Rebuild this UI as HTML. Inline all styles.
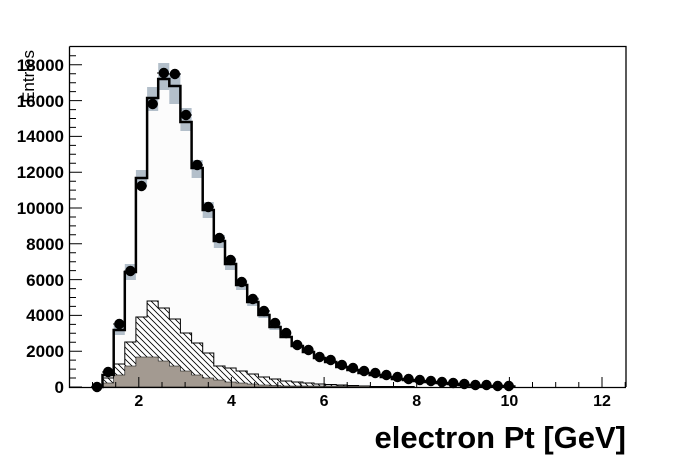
<!DOCTYPE html>
<html><head><meta charset="utf-8"><style>
html,body{margin:0;padding:0;background:#fff;}
svg{display:block;font-family:"Liberation Sans",sans-serif;}
</style></head><body>
<svg width="696" height="472" viewBox="0 0 696 472" xmlns="http://www.w3.org/2000/svg">
<defs>
<pattern id="h" patternUnits="userSpaceOnUse" width="6" height="6">
<rect width="6" height="6" fill="#fff"/>
<path d="M-1,-1 L7,7 M-1,5 L1,7 M5,-1 L7,1" stroke="#000" stroke-width="0.8"/>
</pattern>
</defs>
<rect width="696" height="472" fill="#fff"/>
<path d="M91.4,387 H102.5 V375 H113.7 V330 H124.8 V272 H135.9 V178 H147.1 V98 H158.2 V79 H169.3 V86 H180.4 V122 H191.6 V168 H202.7 V210 H213.8 V241 H225 V264 H236.1 V285 H247.2 V302 H258.4 V315 H269.5 V327 H280.6 V337 H291.7 V346 H302.9 V352 H314 V358 H325.1 V362 H336.3 V367 H347.4 V370 H358.5 V373 H369.7 V375 H380.8 V377 H391.9 V379 H403 V380 H414.2 V381 H425.3 V382 H436.4 V383 H447.6 V384 H458.7 V385 H469.8 V385.5 H481 V386 H503.2 V386.5 H514.3 V387 Z" fill="#fcfcfc"/>
<path d="M102.5,387 V378 H113.7 V364 H124.8 V342 H135.9 V317 H147.1 V301 H158.2 V308 H169.3 V319 H180.4 V333 H191.6 V343 H202.7 V353 H213.8 V366 H225 V368 H236.1 V371 H247.2 V374 H258.4 V377 H269.5 V379 H280.6 V381 H291.7 V382 H302.9 V383 H314 V384 H325.1 V384.5 H336.3 V385 H347.4 V385.5 H358.5 V386 H369.7 V386.5 H414.2 V387 Z" fill="url(#h)" stroke="#000" stroke-width="1"/>
<path d="M102.5,387 V383 H113.7 V375 H124.8 V366 H135.9 V357 H158.2 V361 H169.3 V366 H180.4 V371 H191.6 V375 H202.7 V378 H213.8 V380 H225 V382 H236.1 V383 H247.2 V384 H258.4 V385 H269.5 V385.5 H280.6 V386 H369.7 V387 Z" fill="#a39a91" stroke="#000" stroke-width="0.6"/>
<g fill="#b3bfca">
<rect x="113.7" y="325" width="11.1" height="10"/>
<rect x="124.8" y="264" width="11.1" height="16"/>
<rect x="135.9" y="170" width="11.2" height="16"/>
<rect x="147.1" y="87" width="11.1" height="24"/>
<rect x="158.2" y="63" width="11.1" height="27"/>
<rect x="169.3" y="73" width="11.1" height="31"/>
<rect x="180.4" y="108" width="11.2" height="23"/>
<rect x="191.6" y="160" width="11.1" height="18"/>
<rect x="202.7" y="202" width="11.1" height="16"/>
<rect x="213.8" y="235" width="11.2" height="13"/>
<rect x="225" y="258" width="11.1" height="12"/>
<rect x="236.1" y="280" width="11.1" height="10"/>
<rect x="247.2" y="297" width="11.2" height="9"/>
<rect x="258.4" y="310" width="11.1" height="8"/>
<rect x="269.5" y="322" width="11.1" height="8"/>
</g>
<path d="M91.4,387 H102.5 V375 H113.7 V330 H124.8 V272 H135.9 V178 H147.1 V98 H158.2 V79 H169.3 V86 H180.4 V122 H191.6 V168 H202.7 V210 H213.8 V241 H225 V264 H236.1 V285 H247.2 V302 H258.4 V315 H269.5 V327 H280.6 V337 H291.7 V346 H302.9 V352 H314 V358 H325.1 V362 H336.3 V367 H347.4 V370 H358.5 V373 H369.7 V375 H380.8 V377 H391.9 V379 H403 V380 H414.2 V381 H425.3 V382 H436.4 V383 H447.6 V384 H458.7 V385 H469.8 V385.5 H481 V386 H503.2 V386.5 H514.3 V387" fill="none" stroke="#000" stroke-width="2.5"/>
<path d="M69.5,46.5 H626 V387 M69.5,46.5 V387.5 H626" fill="none" stroke="#000" stroke-width="1.3"/>
<g fill="#000" stroke="#000" stroke-width="1">
<circle cx="97" cy="387" r="4.7"/><circle cx="108.1" cy="372" r="4.7"/><circle cx="119.3" cy="324" r="4.7"/><circle cx="130.4" cy="271" r="4.7"/><circle cx="141.5" cy="186" r="4.7"/><circle cx="152.7" cy="104" r="4.7"/><circle cx="163.8" cy="73" r="4.7"/><circle cx="174.9" cy="74" r="4.7"/><circle cx="186" cy="115" r="4.7"/><circle cx="197.2" cy="165" r="4.7"/><circle cx="208.3" cy="207" r="4.7"/><circle cx="219.4" cy="238" r="4.7"/><circle cx="230.6" cy="260" r="4.7"/><circle cx="241.7" cy="282" r="4.7"/><circle cx="252.8" cy="299" r="4.7"/><circle cx="264" cy="311" r="4.7"/><circle cx="275.1" cy="323" r="4.7"/><circle cx="286.2" cy="333" r="4.7"/><circle cx="297.3" cy="345" r="4.7"/><circle cx="308.5" cy="350" r="4.7"/><circle cx="319.6" cy="357" r="4.7"/><circle cx="330.7" cy="360" r="4.7"/><circle cx="341.9" cy="365" r="4.7"/><circle cx="353" cy="368" r="4.7"/><circle cx="364.1" cy="371" r="4.7"/><circle cx="375.3" cy="373" r="4.7"/><circle cx="386.4" cy="375" r="4.7"/><circle cx="397.5" cy="377" r="4.7"/><circle cx="408.6" cy="379" r="4.7"/><circle cx="419.8" cy="380" r="4.7"/><circle cx="430.9" cy="381" r="4.7"/><circle cx="442" cy="382" r="4.7"/><circle cx="453.2" cy="383" r="4.7"/><circle cx="464.3" cy="384" r="4.7"/><circle cx="475.4" cy="385" r="4.7"/><circle cx="486.5" cy="385" r="4.7"/><circle cx="497.7" cy="386" r="4.7"/><circle cx="508.8" cy="386" r="4.7"/>
</g>
<g stroke="#000" stroke-width="1">
<path d="M91,387 H103 M102,372 H114 M113,324 H125 M124,271 H136 M135,186 H147 M146,104 H158 M157,73 H169 M168,74 H181 M180,115 H192 M191,165 H203 M202,207 H214 M213,238 H225 M224,260 H236 M235,282 H247 M246,299 H259 M258,311 H270"/>
</g>
<g stroke="#000" stroke-width="1">
<path d="M70,387 H82 M70,351.2 H82 M70,315.4 H82 M70,279.6 H82 M70,243.8 H82 M70,208 H82 M70,172.2 H82 M70,136.4 H82 M70,100.6 H82 M70,64.8 H82
M70,378 H76 M70,369.1 H76 M70,360.1 H76 M70,342.2 H76 M70,333.3 H76 M70,324.4 H76 M70,306.4 H76 M70,297.5 H76 M70,288.6 H76 M70,270.6 H76 M70,261.7 H76 M70,252.8 H76 M70,234.8 H76 M70,225.9 H76 M70,217 H76 M70,199 H76 M70,190.1 H76 M70,181.2 H76 M70,163.2 H76 M70,154.3 H76 M70,145.4 H76 M70,127.4 H76 M70,118.5 H76 M70,109.6 H76 M70,91.6 H76 M70,82.7 H76 M70,73.8 H76 M70,55.8 H76"/>
<path d="M138.8,387 V377 M231.4,387 V377 M324.1,387 V377 M416.7,387 V377 M509.4,387 V377 M602,387 V377
M92.5,387 V382 M115.7,387 V382 M162,387 V382 M185.1,387 V382 M208.3,387 V382 M254.6,387 V382 M277.8,387 V382 M300.9,387 V382 M347.2,387 V382 M370.4,387 V382 M393.5,387 V382 M439.9,387 V382 M463,387 V382 M486.2,387 V382 M532.5,387 V382 M555.7,387 V382 M578.8,387 V382 M625.2,387 V382"/>
</g>
<text transform="translate(34,50) rotate(-90)" font-size="17" text-anchor="end" fill="#000">Entries</text>
<g font-size="17" font-weight="bold" text-anchor="end" fill="#000">
<text x="64" y="393">0</text><text x="64" y="357">2000</text><text x="64" y="321">4000</text><text x="64" y="286">6000</text><text x="64" y="250">8000</text><text x="64" y="214">10000</text><text x="64" y="178">12000</text><text x="64" y="142">14000</text><text x="64" y="107">16000</text><text x="64" y="71">18000</text>
</g>
<g font-size="16" font-weight="bold" text-anchor="middle" fill="#000">
<text x="138.8" y="406">2</text><text x="231.4" y="406">4</text><text x="324.1" y="406">6</text><text x="416.7" y="406">8</text><text x="509.4" y="406">10</text><text x="602" y="406">12</text>
</g>
<text x="626" y="448" font-size="31" font-weight="bold" text-anchor="end" fill="#000">electron Pt [GeV]</text>
</svg>
</body></html>
